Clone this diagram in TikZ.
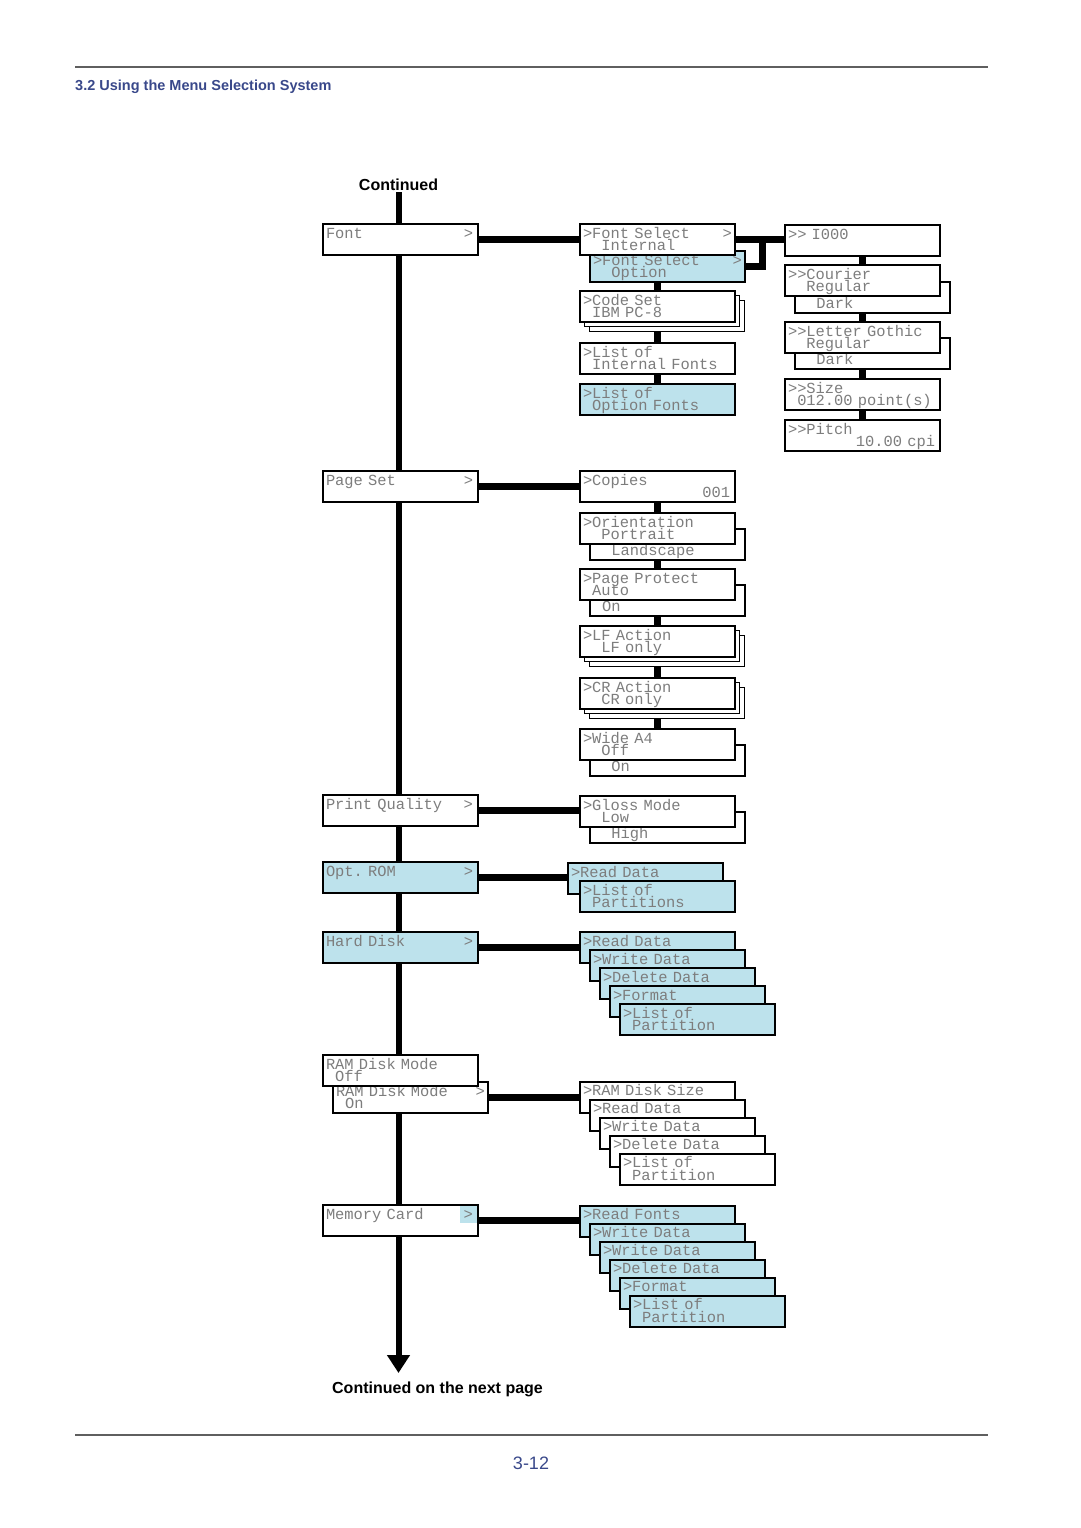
\documentclass[tikz,border=0pt]{standalone}
\usepackage{fontspec}
\setmainfont{Liberation Sans}
\setmonofont{Liberation Mono}
\usetikzlibrary{arrows.meta,backgrounds}

\definecolor{menublue}{RGB}{189,226,236}
\definecolor{menutext}{RGB}{125,125,125}
\definecolor{headblue}{RGB}{57,72,138}
\definecolor{rulegray}{RGB}{95,95,95}

\newcommand\menufont{\ttfamily\fontsize{15.4}{12.5}\selectfont
  \lineskiplimit=-20pt\frenchspacing\spaceskip=0.6em\xspaceskip=0.6em}
\newcommand\pad[1]{\hspace*{#1\dimexpr0.6em\relax}}
\newcommand\rt[1]{\hfill#1\hspace*{2pt}}

\tikzset{
  menu/.style={draw, line width=2pt, fill=white, anchor=north west,
    inner xsep=3pt, inner ysep=0pt, text width=149pt,
    text height=14pt, text depth=17pt, align=left,
    font=\menufont, text=menutext},
  opt/.style={menu, fill=menublue},
  shadowbox/.style={menu, line width=1pt},
  link/.style={line width=7pt},
  spine/.style={line width=6pt, -{Triangle[width=22pt,length=18pt]}},
  rule/.style={rulegray, line width=1.3pt},
}

\begin{document}
\begin{tikzpicture}[x=1pt,y=-1pt]
  \useasboundingbox (0,0) rectangle (1080,1528);

  % Kopf und Fuss
  \draw[rule] (75,67) -- (988,67);
  \draw[rule] (75,1435) -- (988,1435);
  \node[anchor=base west, inner sep=0pt, text=headblue,
    font=\bfseries\fontsize{14.5}{17}\selectfont] (title) at (75,90)
    {3.2 Using the Menu Selection System};
  \node[anchor=base, inner sep=0pt, text=headblue,
    font=\fontsize{18}{21}\selectfont] (pageno) at (531,1469) {3-12};

  \node[anchor=base, inner sep=2pt, font=\bfseries\fontsize{16}{19}\selectfont]
    (cont) at (398.5,190) {Continued};
  \node[anchor=base, inner sep=2pt, font=\bfseries\fontsize{16}{19}\selectfont]
    (next) at (437.5,1393) {Continued on the next page};
  \coordinate (spineend) at (398.5,1373);

  % Hauptmenue
  \node[menu] (font) at (322,223) {Font\rt{>}};
  \node[menu] (pageset) at (322,470) {Page Set\rt{>}};
  \node[menu] (quality) at (322,794) {Print Quality\rt{>}};
  \node[opt] (optrom) at (322,861) {Opt. ROM\rt{>}};
  \node[opt] (harddisk) at (322,931) {Hard Disk\rt{>}};
  \node[menu] (ramdiskon) at (332,1081) {RAM Disk Mode\rt{>}\\\pad{1}On};
  \node[menu] (ramdiskoff) at (322,1054) {RAM Disk Mode\\\pad{1}Off};
  \node[menu, path picture={\fill[menublue]
      ([xshift=-18pt]path picture bounding box.north east) rectangle
      ([yshift=-18pt]path picture bounding box.north east);}]
    (memcard) at (322,1204) {Memory Card\rt{>}};

  % Font
  \node[opt] (fsopt) at (589,250) {>Font Select\rt{>}\\\pad{2}Option};
  \node[menu] (fsint) at (579,223) {>Font Select\rt{>}\\\pad{2}Internal};
  \node[shadowbox] (codeset2) at (589,300) {};
  \node[shadowbox] (codeset1) at (584,295) {};
  \node[menu] (codeset) at (579,290) {>Code Set\\\pad{1}IBM PC-8};
  \node[menu] (intfonts) at (579,342) {>List of\\\pad{1}Internal Fonts};
  \node[opt] (optfonts) at (579,383) {>List of\\\pad{1}Option Fonts};

  \node[menu] (ifont) at (784,224) {>> I000};
  \node[menu] (courierdark) at (794,281) {\mbox{}\\\pad{2}Dark};
  \node[menu] (courier) at (784,264) {>>Courier\\\pad{2}Regular};
  \node[menu] (gothicdark) at (794,337) {\mbox{}\\\pad{2}Dark};
  \node[menu] (gothic) at (784,321) {>>Letter Gothic\\\pad{2}Regular};
  \node[menu] (size) at (784,378) {>>Size\\\pad{1}012.00 point(s)};
  \node[menu] (pitch) at (784,419) {>>Pitch\\\rt{10.00 cpi}};

  % Page Set
  \node[menu] (copies) at (579,470) {>Copies\\\rt{001}};
  \node[menu] (landscape) at (589,528) {\mbox{}\\\pad{2}Landscape};
  \node[menu] (orient) at (579,512) {>Orientation\\\pad{2}Portrait};
  \node[menu] (protecton) at (589,584) {\mbox{}\\\pad{1}On};
  \node[menu] (protect) at (579,568) {>Page Protect\\\pad{1}Auto};
  \node[shadowbox] (lf2) at (589,635) {};
  \node[shadowbox] (lf1) at (584,630) {};
  \node[menu] (lf) at (579,625) {>LF Action\\\pad{2}LF only};
  \node[shadowbox] (cr2) at (589,687) {};
  \node[shadowbox] (cr1) at (584,682) {};
  \node[menu] (cr) at (579,677) {>CR Action\\\pad{2}CR only};
  \node[menu] (wideon) at (589,744) {\mbox{}\\\pad{2}On};
  \node[menu] (wide) at (579,728) {>Wide A4\\\pad{2}Off};

  % Print Quality
  \node[menu] (high) at (589,811) {\mbox{}\\\pad{2}High};
  \node[menu] (gloss) at (579,795) {>Gloss Mode\\\pad{2}Low};

  % Opt. ROM
  \node[opt] (romread) at (567,862) {>Read Data};
  \node[opt] (romlist) at (579,880) {>List of\\\pad{1}Partitions};

  % Hard Disk
  \foreach \i/\entry in {0/>Read Data,1/>Write Data,2/>Delete Data,
      3/>Format,4/{>List of\\\pad{1}Partition}} {
    \node[opt] (hd\i) at (579+10*\i,931+18*\i) {\entry};
  }
  % RAM Disk
  \foreach \i/\entry in {0/>RAM Disk Size,1/>Read Data,2/>Write Data,
      3/>Delete Data,4/{>List of\\\pad{1}Partition}} {
    \node[menu] (rd\i) at (579+10*\i,1080.5+18*\i) {\entry};
  }
  % Memory Card
  \foreach \i/\entry in {0/>Read Fonts,1/>Write Data,2/>Write Data,
      3/>Delete Data,4/>Format,5/{>List of\\\pad{1}Partition}} {
    \node[opt] (mc\i) at (579+10*\i,1204.5+18*\i) {\entry};
  }

  \coordinate (fsjoin) at (762,238.5);

  \begin{pgfonlayer}{background}
    \draw[spine] (cont.south) -- (cont.south |- spineend);
    \draw[link] (font.east) -- (font.east -| fsint.west);
    \draw[link] (fsint.east) -- (fsint.east -| ifont.west);
    \draw[link] (fsopt.east) -| (fsjoin);
    \draw[link] (fsopt.south -| codeset.north) -- (optfonts.north);
    \draw[link] (ifont.south) -- (pitch.north);
    \draw[link] (pageset.east) -- (pageset.east -| copies.west);
    \draw[link] (copies.south) -- (wide.north);
    \draw[link] (quality.east) -- (quality.east -| gloss.west);
    \draw[link] (optrom.east) -- (optrom.east -| romread.west);
    \draw[link] (harddisk.east) -- (harddisk.east -| hd0.west);
    \draw[link] (ramdiskon.east) -- (ramdiskon.east -| rd0.west);
    \draw[link] (memcard.east) -- (memcard.east -| mc0.west);
  \end{pgfonlayer}
\end{tikzpicture}
\end{document}
